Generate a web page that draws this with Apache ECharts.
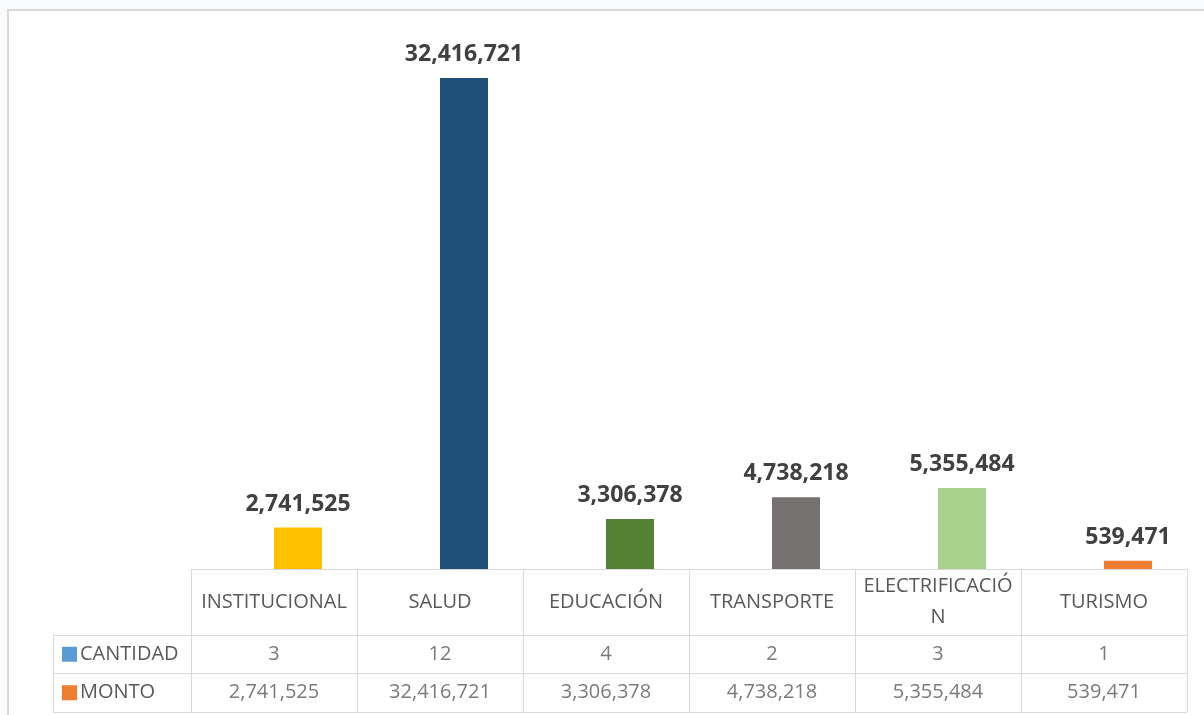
<!DOCTYPE html>
<html>
<head>
<meta charset="utf-8">
<script src="https://cdn.jsdelivr.net/npm/echarts@6/dist/echarts.min.js"></script>
<style>
  html, body { margin: 0; padding: 0; width: 1204px; height: 715px; overflow: hidden; background: #f9fbfd; }
  #chart { position: absolute; left: 7px; top: 9px; width: 1210px; height: 720px;
           border: 2px solid #d9d9d9; background: #ffffff; }
</style>
</head>
<body>
<div id="chart"></div>
<script>
// Datos del gráfico
const categorias = ["INSTITUCIONAL", "SALUD", "EDUCACIÓN", "TRANSPORTE", "ELECTRIFICACIÓN", "TURISMO"];
const cantidad = [3, 12, 4, 2, 3, 1];
const monto = [2741525, 32416721, 3306378, 4738218, 5355484, 539471];
const filas = ["CANTIDAD", "MONTO"];

const coloresMonto = ["#ffc000", "#1f4e79", "#548235", "#767171", "#a9d18e", "#ed7d31"];
const colorCantidad = "#5b9bd5";
const colorMonto = "#ed7d31";

const fuente = "'Open Sans', 'Liberation Sans', sans-serif";
const gris = "#d9d9d9";
const fmt = (v) => v.toLocaleString("en-US");

// celdas de la tabla de datos
const celdas = [];
categorias.forEach((c, i) => {
  celdas.push([c, "CANTIDAD", cantidad[i]]);
  celdas.push([c, "MONTO", monto[i]]);
});

const chart = echarts.init(document.getElementById("chart"));

const option = {
  animation: false,
  grid: [
    { left: 182, top: 28, width: 996, height: 530 },
    { left: 182, top: 624, width: 996, height: 77 },
  ],
  xAxis: [
    {
      type: "category",
      gridIndex: 0,
      data: categorias,
      axisLine: { show: true, lineStyle: { color: gris, width: 1 } },
      axisTick: { show: true, length: 66, lineStyle: { color: gris, width: 1 } },
      axisLabel: {
        fontFamily: fuente,
        fontSize: 20,
        color: "#595959",
        margin: 33,
        verticalAlign: "middle",
        lineHeight: 31,
        width: 158,
        overflow: "breakAll",
        interval: 0,
      },
      splitLine: { show: false },
    },
    {
      type: "category",
      gridIndex: 1,
      data: categorias,
      axisLine: { show: false },
      axisTick: { show: false },
      axisLabel: { show: false },
      splitLine: { show: true, lineStyle: { color: gris, width: 1 } },
    },
  ],
  yAxis: [
    { type: "value", gridIndex: 0, min: 0, max: 35000000, show: false },
    {
      type: "category",
      gridIndex: 1,
      data: filas,
      inverse: true,
      axisLine: { show: true, lineStyle: { color: gris, width: 1 } },
      axisTick: { show: true, length: 138, lineStyle: { color: gris, width: 1 } },
      splitLine: { show: true, lineStyle: { color: gris, width: 1 } },
      axisLabel: {
        align: "left",
        margin: 129,
        formatter: (v) => "{" + (v === "CANTIDAD" ? "kc" : "km") + "|}{t|" + v + "}",
        rich: {
          kc: { width: 15, height: 15, backgroundColor: colorCantidad },
          km: { width: 15, height: 15, backgroundColor: colorMonto },
          t: { fontFamily: fuente, fontSize: 20, color: "#595959", padding: [0, 0, 0, 3] },
        },
      },
    },
    {
      type: "category",
      gridIndex: 1,
      data: filas,
      inverse: true,
      position: "left",
      offset: 138,
      axisLine: { show: true, lineStyle: { color: gris, width: 1 } },
      axisTick: { show: false },
      axisLabel: { show: false },
      splitLine: { show: false },
    },
  ],
  series: [
    {
      name: "CANTIDAD",
      type: "bar",
      xAxisIndex: 0,
      yAxisIndex: 0,
      data: cantidad,
      barWidth: 48,
      barGap: "0%",
      itemStyle: { color: colorCantidad },
    },
    {
      name: "MONTO",
      type: "bar",
      xAxisIndex: 0,
      yAxisIndex: 0,
      data: monto.map((v, i) => ({ value: v, itemStyle: { color: coloresMonto[i] } })),
      barWidth: 48,
      barGap: "0%",
      label: {
        show: true,
        position: "top",
        distance: 12,
        fontFamily: fuente,
        fontSize: 23,
        fontWeight: "bold",
        color: "#404040",
        formatter: (p) => fmt(p.value),
      },
    },
    {
      name: "tabla",
      type: "scatter",
      xAxisIndex: 1,
      yAxisIndex: 1,
      symbolSize: 1,
      itemStyle: { color: "rgba(0,0,0,0)" },
      data: celdas,
      label: {
        show: true,
        position: "inside",
        fontFamily: fuente,
        fontSize: 20,
        color: "#595959",
        formatter: (p) => fmt(p.value[2]),
      },
      silent: true,
    },
  ],
};

chart.setOption(option);
</script>
</body>
</html>
